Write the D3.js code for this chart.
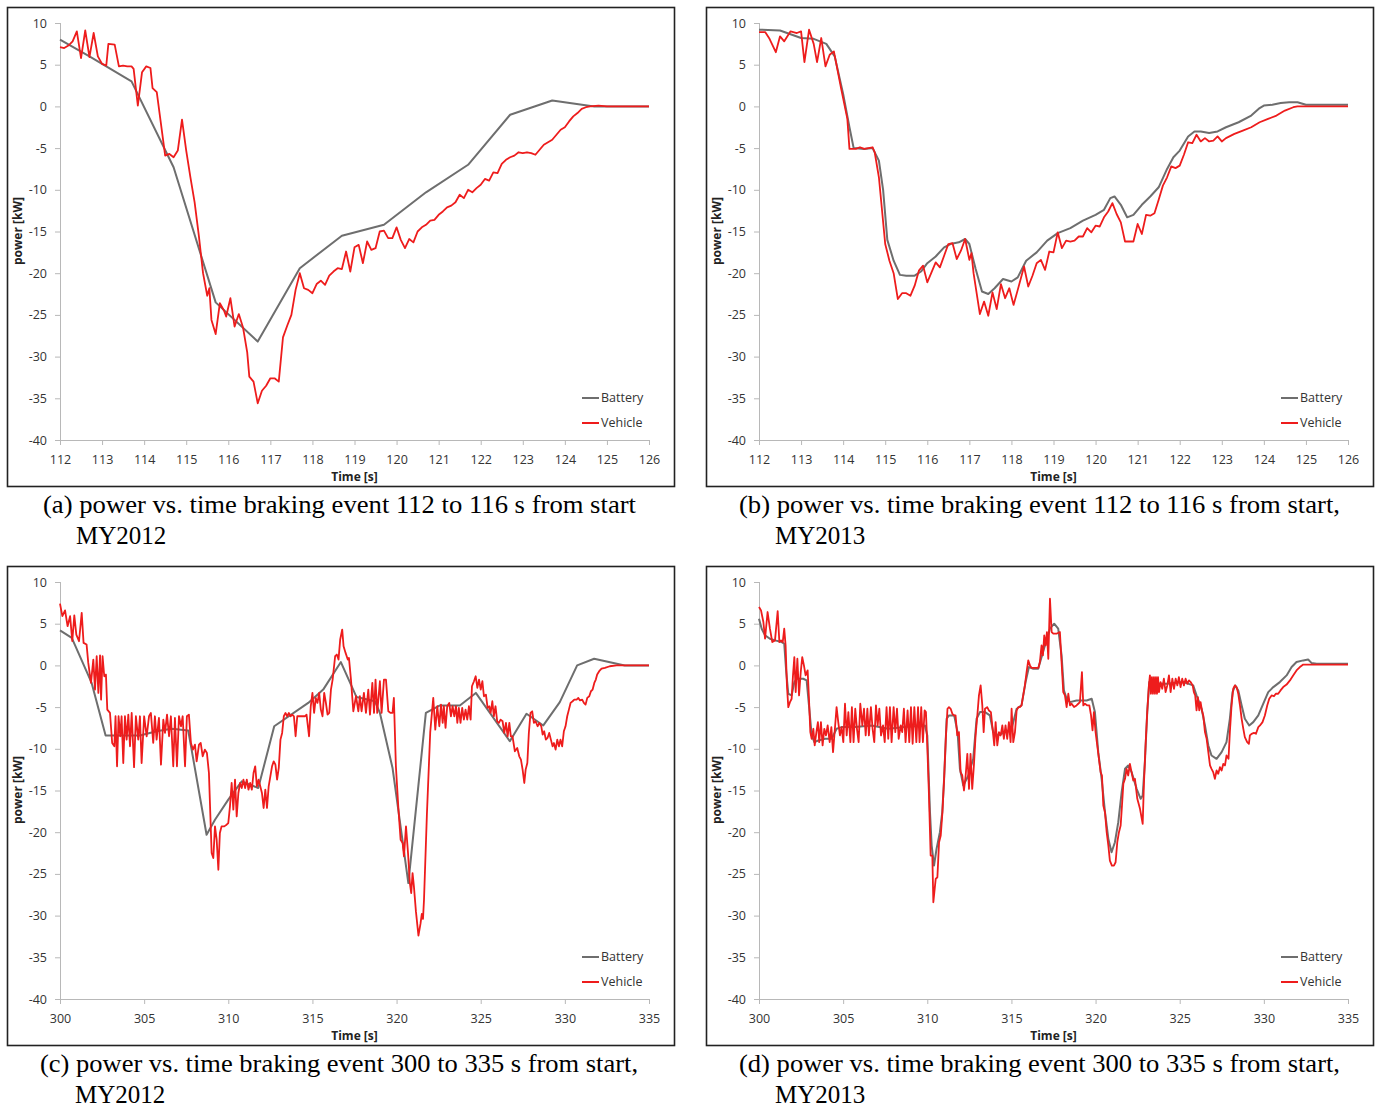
<!DOCTYPE html>
<html>
<head>
<meta charset="utf-8">
<script src="https://cdn.jsdelivr.net/npm/d3@7"></script>
<style>
  body { margin: 0; background: #fff; }
  svg { display: block; }
</style>
</head>
<body>
<svg id="fig" width="1376" height="1108"></svg>
<script>
// ---- data: [time s, power kW] ----
const yTicks = [10, 5, 0, -5, -10, -15, -20, -25, -30, -35, -40];
const xTicks112 = [112, 113, 114, 115, 116, 117, 118, 119, 120, 121, 122, 123, 124, 125, 126];
const xTicks300 = [300, 305, 310, 315, 320, 325, 330, 335];
const seriesNames = ["Battery", "Vehicle"];

const batteryA = [[112,8.0],[112.7,6.0],[113.7,3.0],[114.7,-7.3],[115.7,-23.5],[116.7,-28.2],[117.7,-19.4],[118.7,-15.5],[119.7,-14.2],[120.7,-10.3],[121.7,-7.0],[122.7,-1.0],[123.7,0.7],[124.7,0],[126,0]];

const vehicleA = [[112.0,7.1],[112.1,7.0],[112.2,7.3],[112.3,7.8],[112.4,9.0],[112.5,5.8],[112.6,9.1],[112.7,5.9],[112.8,8.8],[112.9,6.0],[113.0,5.1],[113.1,4.9],[113.15,7.5],[113.3,7.4],[113.4,4.8],[113.5,4.9],[113.6,4.8],[113.7,4.8],[113.75,4.5],[113.85,0.1],[113.95,4.1],[114.05,4.8],[114.15,4.6],[114.2,2.2],[114.3,1.7],[114.5,-5.9],[114.6,-5.7],[114.7,-6.1],[114.8,-5.3],[114.9,-1.6],[115.0,-5.3],[115.1,-8.5],[115.2,-11.5],[115.3,-15.5],[115.4,-20],[115.5,-22.7],[115.55,-21.8],[115.6,-25.6],[115.7,-27.3],[115.8,-23.6],[115.9,-24.5],[115.95,-25.2],[116.05,-23],[116.15,-26.4],[116.25,-24.9],[116.35,-26.5],[116.45,-29.5],[116.5,-32.4],[116.6,-33],[116.7,-35.6],[116.8,-34.1],[116.9,-33.5],[117.0,-32.6],[117.1,-32.6],[117.2,-33.0],[117.3,-27.7],[117.4,-26.3],[117.5,-25],[117.6,-22],[117.7,-20],[117.8,-21.8],[117.9,-22.0],[118.0,-22.4],[118.1,-21.3],[118.2,-20.9],[118.3,-21.4],[118.4,-20.3],[118.5,-19.8],[118.6,-19.4],[118.7,-19.5],[118.8,-17.4],[118.9,-19.8],[119.0,-16.9],[119.1,-16.6],[119.2,-18.8],[119.3,-16.2],[119.4,-17.2],[119.5,-17.0],[119.6,-15.0],[119.7,-14.9],[119.8,-15.8],[119.9,-15.8],[120.0,-14.5],[120.1,-16.0],[120.2,-17.0],[120.3,-15.9],[120.4,-16.3],[120.5,-15.0],[120.6,-14.5],[120.7,-14.2],[120.8,-13.7],[120.9,-13.6],[121.0,-13.0],[121.1,-12.6],[121.2,-12.1],[121.3,-11.9],[121.4,-11.5],[121.5,-10.6],[121.6,-11.0],[121.7,-10.0],[121.8,-10.3],[121.9,-9.8],[122.0,-9.4],[122.1,-8.7],[122.2,-8.9],[122.3,-7.9],[122.4,-8.0],[122.5,-6.9],[122.6,-6.4],[122.7,-6.1],[122.8,-5.9],[122.9,-5.5],[123.0,-5.6],[123.1,-5.5],[123.2,-5.6],[123.3,-5.8],[123.4,-5.2],[123.5,-4.6],[123.6,-4.3],[123.7,-4.0],[123.8,-3.4],[123.9,-2.8],[124.0,-2.5],[124.1,-1.8],[124.2,-1.2],[124.3,-0.8],[124.4,-0.3],[124.5,-0.1],[124.6,0],[124.8,0.1],[125,0],[126,0]];

const batteryB = [[112.0,9.2],[112.5,9.1],[113.0,8.2],[113.3,8.1],[113.6,7.5],[113.8,6.0],[114.0,1.5],[114.15,-2.5],[114.25,-5.0],[114.5,-5.1],[114.7,-5.0],[114.85,-6.5],[114.95,-10],[115.05,-16],[115.2,-18.5],[115.35,-20.2],[115.5,-20.3],[115.7,-20.3],[115.85,-19.8],[116.0,-18.8],[116.2,-18.0],[116.4,-16.9],[116.55,-16.5],[116.75,-16.3],[116.9,-15.9],[117.0,-16.5],[117.15,-19.5],[117.3,-22.2],[117.45,-22.5],[117.6,-21.8],[117.8,-20.7],[118.0,-21.0],[118.15,-20.5],[118.35,-18.5],[118.6,-17.5],[118.85,-16.1],[119.1,-15.2],[119.4,-14.6],[119.7,-13.7],[120.0,-13.0],[120.2,-12.4],[120.35,-11.0],[120.45,-10.8],[120.6,-11.8],[120.75,-13.3],[120.9,-13.0],[121.1,-11.8],[121.3,-10.8],[121.5,-9.7],[121.7,-7.5],[121.85,-6.1],[122.0,-5.3],[122.2,-3.6],[122.35,-3.0],[122.5,-3.0],[122.7,-3.2],[122.9,-3.0],[123.1,-2.5],[123.4,-1.9],[123.7,-1.1],[123.9,-0.2],[124.0,0.1],[124.2,0.2],[124.4,0.4],[124.6,0.5],[124.8,0.5],[125.0,0.2],[126,0.2]];

const vehicleB = [[112.0,8.9],[112.15,8.9],[112.25,8.1],[112.4,6.5],[112.5,8.4],[112.6,7.8],[112.75,9.0],[112.9,8.8],[113.0,9.0],[113.08,5.3],[113.19,9.2],[113.3,7.5],[113.38,5.3],[113.48,8.2],[113.58,4.8],[113.68,6.2],[113.78,6.6],[113.95,2.2],[114.1,-1.5],[114.15,-5.1],[114.3,-5.1],[114.4,-4.9],[114.5,-5.1],[114.6,-5.0],[114.7,-4.9],[114.75,-5.5],[114.85,-8.5],[115.0,-16.5],[115.1,-18.5],[115.2,-20.0],[115.3,-23.1],[115.4,-22.4],[115.5,-22.4],[115.6,-22.7],[115.7,-21.5],[115.8,-19.7],[115.9,-19.1],[116.0,-21.1],[116.1,-19.9],[116.2,-18.7],[116.3,-19.3],[116.4,-17.9],[116.5,-16.5],[116.6,-16.4],[116.7,-18.3],[116.8,-17.3],[116.9,-15.9],[117.0,-18.4],[117.05,-17.6],[117.1,-20],[117.25,-24.9],[117.35,-23.4],[117.45,-25.1],[117.55,-22.3],[117.65,-24.3],[117.75,-21.3],[117.85,-23.0],[117.95,-21.8],[118.05,-23.8],[118.15,-22.0],[118.3,-19.2],[118.4,-21.6],[118.5,-20.3],[118.6,-18.8],[118.7,-18.4],[118.8,-19.6],[118.9,-17.4],[119.0,-17.5],[119.1,-15.1],[119.2,-17.0],[119.3,-16.1],[119.4,-16.2],[119.5,-16.1],[119.6,-15.6],[119.7,-15.6],[119.8,-14.6],[119.9,-15.1],[120.0,-14.3],[120.1,-14.4],[120.2,-13.3],[120.3,-12.6],[120.4,-11.6],[120.5,-12.9],[120.6,-13.9],[120.7,-16.2],[120.8,-16.2],[120.9,-16.2],[121.0,-14.1],[121.1,-15.3],[121.2,-13.0],[121.3,-13.1],[121.4,-12.8],[121.5,-11.2],[121.6,-9.5],[121.7,-8.5],[121.8,-7.2],[121.9,-7.4],[122.0,-7.1],[122.1,-5.8],[122.2,-4.3],[122.3,-4.4],[122.4,-3.4],[122.5,-4.2],[122.6,-3.8],[122.7,-4.2],[122.8,-4.1],[122.9,-3.6],[123.0,-4.2],[123.1,-3.8],[123.3,-3.3],[123.5,-2.9],[123.7,-2.5],[123.9,-1.9],[124.1,-1.5],[124.3,-1.1],[124.5,-0.5],[124.7,-0.1],[124.8,0],[126,0]];

const batteryC = [[300,4.2],[300.7,3.3],[301.88,-2.1],[302.71,-8.4],[304.75,-8.4],[305.74,-7.9],[306.63,-7.6],[307.62,-7.8],[308.71,-20.3],[309.21,-18.5],[310.0,-16.1],[310.8,-13.9],[311.78,-14.7],[312.73,-7.3],[314.75,-4.5],[315.64,-2.9],[316.69,0.4],[317.62,-3.8],[318.72,-4.3],[319.01,-5.7],[319.76,-12.3],[320.7,-26.1],[321.74,-5.7],[322.58,-4.8],[323.76,-4.8],[324.71,-3.3],[326.73,-9.1],[327.72,-5.8],[328.72,-7.2],[329.7,-4.4],[330.73,0],[331.74,0.8],[333.56,0],[335,0]];

const vehicleC = [[300.0,7.4],[300.14,5.9],[300.3,6.6],[300.45,4.7],[300.6,5.9],[300.73,2.9],[300.85,6.0],[300.97,3.7],[301.13,2.9],[301.29,6.3],[301.4,2.7],[301.58,2.5],[301.68,0.3],[301.84,-2.1],[301.98,0.7],[302.08,-2.9],[302.18,1.1],[302.28,-3.3],[302.38,1.2],[302.44,-4.1],[302.53,1.1],[302.63,-1.3],[302.73,-1.1],[302.81,-5.3],[302.97,-5.7],[303.1,-9.3],[303.23,-9.7],[303.3,-6.1],[303.39,-12.1],[303.48,-6.1],[303.58,-8.5],[303.66,-6.1],[303.76,-11.7],[303.86,-6.1],[303.96,-8.9],[304.06,-5.9],[304.16,-9.7],[304.26,-5.7],[304.4,-12.2],[304.51,-6.1],[304.65,-8.9],[304.75,-6.1],[304.85,-11.7],[305.0,-6.1],[305.15,-8.5],[305.29,-6.1],[305.4,-5.7],[305.54,-9.3],[305.64,-6.1],[305.74,-8.9],[305.88,-6.3],[306.0,-11.9],[306.14,-6.5],[306.24,-8.1],[306.36,-5.9],[306.48,-8.5],[306.59,-6.1],[306.73,-12.1],[306.83,-6.3],[306.95,-12.1],[307.07,-6.1],[307.19,-7.3],[307.29,-6.1],[307.43,-12.1],[307.54,-6.1],[307.66,-5.9],[307.78,-9.3],[307.9,-10.1],[308.02,-9.5],[308.12,-11.5],[308.26,-9.5],[308.36,-9.3],[308.48,-10.9],[308.61,-10.1],[308.73,-10.5],[308.85,-12.9],[308.93,-17.7],[309.01,-22.5],[309.11,-23.1],[309.21,-19.3],[309.31,-20.9],[309.41,-24.5],[309.5,-20.1],[309.6,-19.3],[309.76,-19.3],[309.9,-19.1],[310.0,-18.9],[310.1,-16.9],[310.2,-14.1],[310.3,-17.3],[310.4,-13.7],[310.5,-18.1],[310.6,-15.3],[310.7,-14.1],[310.8,-14.7],[310.9,-13.7],[311.0,-14.7],[311.1,-13.7],[311.2,-14.9],[311.3,-14.1],[311.4,-14.9],[311.5,-12.9],[311.6,-12.1],[311.7,-14.5],[311.8,-13.7],[311.9,-14.5],[312.0,-15.3],[312.1,-17.1],[312.2,-14.9],[312.3,-17.1],[312.4,-14.5],[312.5,-13.3],[312.6,-12.1],[312.7,-11.5],[312.8,-11.9],[312.9,-13.7],[313.0,-12.3],[313.1,-8.9],[313.2,-8.1],[313.3,-6.1],[313.4,-5.7],[313.5,-6.1],[313.6,-5.7],[313.7,-6.1],[313.8,-5.9],[313.9,-6.1],[314.0,-8.5],[314.1,-6.1],[314.4,-6.1],[314.55,-6.1],[314.65,-5.9],[314.8,-8.5],[314.9,-4.9],[315.0,-3.3],[315.1,-5.7],[315.2,-3.9],[315.3,-4.5],[315.4,-3.3],[315.5,-5.3],[315.6,-6.1],[315.7,-3.3],[315.8,-4.5],[315.9,-5.9],[316.0,-5.7],[316.1,-2.9],[316.2,-1.7],[316.35,1.1],[316.45,1.3],[316.55,0.7],[316.65,3.1],[316.77,4.3],[316.85,2.3],[316.97,1.5],[317.1,0.7],[317.17,0.9],[317.29,-1.7],[317.43,-5.5],[317.59,-3.7],[317.73,-5.5],[317.82,-3.7],[317.92,-5.5],[318.06,-3.3],[318.18,-5.7],[318.32,-2.9],[318.42,-5.9],[318.56,-2.1],[318.66,-5.7],[318.75,-1.7],[318.85,-5.7],[319.01,-1.9],[319.11,-5.7],[319.25,-1.7],[319.37,-1.7],[319.51,-5.5],[319.65,-5.7],[319.76,-5.7],[319.84,-3.9],[319.96,-12.1],[320.1,-16.9],[320.24,-20.9],[320.36,-21.3],[320.44,-22.9],[320.56,-19.3],[320.68,-22.5],[320.79,-26.1],[320.87,-27.3],[320.95,-24.9],[321.03,-26.5],[321.15,-29.5],[321.3,-32.4],[321.42,-31.0],[321.5,-29.8],[321.57,-30.4],[321.63,-28.1],[321.8,-18.0],[322.0,-8.0],[322.18,-3.9],[322.3,-7.7],[322.42,-4.9],[322.54,-7.3],[322.64,-4.7],[322.74,-6.9],[322.81,-4.9],[322.91,-7.5],[323.01,-4.9],[323.13,-4.5],[323.23,-6.1],[323.33,-4.9],[323.43,-6.1],[323.53,-4.9],[323.61,-6.9],[323.7,-5.1],[323.8,-6.9],[323.9,-5.1],[324.0,-6.5],[324.1,-5.3],[324.2,-6.5],[324.3,-4.9],[324.4,-6.5],[324.48,-2.5],[324.6,-1.9],[324.7,-1.3],[324.8,-2.7],[324.9,-1.7],[325.0,-2.9],[325.1,-1.9],[325.19,-3.7],[325.31,-3.5],[325.41,-5.1],[325.51,-4.9],[325.59,-5.7],[325.69,-4.3],[325.78,-6.1],[325.88,-4.9],[325.98,-6.7],[326.08,-6.9],[326.18,-6.5],[326.3,-6.7],[326.4,-8.1],[326.5,-6.9],[326.6,-8.5],[326.7,-6.9],[326.79,-8.5],[326.89,-8.5],[327.03,-10.3],[327.17,-9.9],[327.29,-10.9],[327.39,-11.3],[327.49,-12.5],[327.59,-14.1],[327.67,-12.5],[327.77,-11.7],[327.86,-8.1],[327.96,-5.7],[328.06,-5.5],[328.16,-6.9],[328.26,-6.7],[328.38,-7.3],[328.48,-6.9],[328.6,-7.3],[328.68,-8.3],[328.77,-7.9],[328.87,-8.9],[328.97,-8.7],[329.07,-8.1],[329.17,-8.9],[329.27,-9.7],[329.35,-9.3],[329.45,-10.1],[329.55,-8.9],[329.65,-9.7],[329.74,-8.9],[329.84,-9.7],[329.94,-7.9],[330.04,-7.3],[330.14,-6.1],[330.24,-5.3],[330.34,-4.5],[330.46,-4.3],[330.56,-4.1],[330.7,-4.1],[330.8,-3.9],[330.9,-4.2],[331.03,-4.1],[331.13,-4.5],[331.23,-4.7],[331.33,-3.9],[331.45,-3.7],[331.55,-3.1],[331.65,-2.9],[331.75,-2.1],[331.84,-1.7],[331.92,-1.1],[332.04,-0.7],[332.18,-0.4],[332.38,-0.3],[332.67,-0.1],[333.07,0],[335,0]];

const batteryD = [[300,5.6],[300.16,4.4],[300.36,3.6],[300.65,3.2],[300.95,3.0],[301.35,2.8],[301.5,2.6],[301.62,-0.8],[301.74,-3.4],[301.94,-3.6],[302.1,-2.0],[302.24,-1.6],[302.63,-1.6],[302.83,-1.8],[302.97,-4.8],[303.13,-8.4],[303.29,-9.2],[303.52,-9.0],[303.92,-8.8],[304.32,-8.8],[304.61,-7.6],[304.91,-7.4],[305.7,-7.4],[306.69,-7.2],[307.68,-7.6],[308.67,-7.4],[309.86,-7.2],[310.0,-8.4],[310.16,-17.6],[310.26,-21.6],[310.4,-24.0],[310.55,-22.0],[310.75,-20.0],[310.89,-17.6],[311.0,-13.6],[311.15,-6.4],[311.29,-6.0],[311.6,-6.0],[311.8,-8.0],[311.94,-12.4],[312.14,-14.4],[312.44,-13.2],[312.73,-11.2],[312.93,-6.4],[313.13,-5.6],[313.43,-5.6],[313.72,-6.0],[313.92,-8.0],[314.22,-8.4],[314.61,-8.0],[315.01,-7.6],[315.31,-5.2],[315.6,-4.8],[315.84,-2.0],[316.04,-0.2],[316.3,-0.4],[316.59,-0.4],[316.99,2.4],[317.29,4.4],[317.54,5.0],[317.78,4.4],[317.98,1.2],[318.12,-3.0],[318.28,-4.0],[318.48,-4.4],[318.87,-4.2],[319.47,-4.2],[319.77,-4.0],[319.96,-5.6],[320.16,-10.4],[320.36,-13.6],[320.56,-17.6],[320.76,-20.8],[320.95,-22.4],[321.15,-21.2],[321.35,-18.8],[321.55,-15.2],[321.75,-12.4],[321.94,-12.0],[322.14,-12.8],[322.44,-14.8],[322.68,-16.0],[322.8,-15.6],[322.93,-11.6],[323.07,-5.6],[323.19,-2.0],[323.43,-2.2],[324.22,-2.2],[325.21,-2.0],[325.8,-2.4],[326.0,-3.6],[326.3,-5.2],[326.5,-7.2],[326.7,-9.6],[326.89,-10.8],[327.19,-11.2],[327.49,-10.4],[327.78,-9.2],[327.98,-6.4],[328.14,-3.2],[328.3,-2.4],[328.48,-3.0],[328.68,-4.8],[328.87,-6.4],[329.13,-7.2],[329.37,-6.8],[329.67,-6.0],[329.96,-4.6],[330.26,-3.2],[330.56,-2.6],[330.95,-2.0],[331.35,-1.2],[331.65,-0.2],[331.94,0.4],[332.34,0.6],[332.63,0.7],[332.83,0.3],[333.13,0.2],[335,0.2]];

const vehicleD = [[300,7.0],[300.12,6.6],[300.26,5.2],[300.36,3.2],[300.51,6.4],[300.65,4.4],[300.79,2.8],[300.95,3.0],[301.11,6.5],[301.21,2.8],[301.31,3.0],[301.41,2.8],[301.5,4.4],[301.58,2.4],[301.66,-2.4],[301.74,-5.0],[301.84,-4.4],[301.94,-4.0],[302.02,-1.2],[302.1,1.0],[302.18,-3.2],[302.28,0.8],[302.38,-3.6],[302.48,-0.8],[302.57,1.0],[302.67,0],[302.77,-1.2],[302.89,-0.6],[302.97,-4.0],[303.05,-8.0],[303.13,-8.8],[303.23,-7.6],[303.31,-9.6],[303.41,-8.0],[303.5,-6.8],[303.58,-9.2],[303.68,-6.8],[303.78,-9.6],[303.88,-7.6],[303.98,-8.4],[304.08,-7.2],[304.2,-9.2],[304.3,-7.4],[304.4,-10.4],[304.51,-7.6],[304.61,-5.0],[304.71,-6.8],[304.81,-8.4],[304.91,-7.4],[305.01,-9.2],[305.11,-4.6],[305.21,-8.4],[305.31,-5.6],[305.43,-9.2],[305.52,-5.0],[305.62,-9.2],[305.72,-5.2],[305.82,-7.6],[305.92,-9.2],[306.02,-4.6],[306.14,-7.2],[306.24,-5.2],[306.34,-8.4],[306.44,-5.2],[306.53,-8.4],[306.65,-5.0],[306.75,-7.6],[306.85,-9.2],[306.95,-4.8],[307.05,-7.2],[307.15,-5.2],[307.25,-8.4],[307.37,-7.2],[307.47,-9.2],[307.58,-5.0],[307.68,-8.8],[307.78,-5.0],[307.88,-9.2],[308.0,-5.0],[308.1,-8.0],[308.2,-5.2],[308.3,-8.8],[308.42,-7.2],[308.51,-8.0],[308.61,-5.2],[308.71,-9.2],[308.83,-5.4],[308.93,-9.2],[309.03,-5.0],[309.13,-9.4],[309.23,-5.0],[309.35,-9.2],[309.45,-5.0],[309.54,-9.2],[309.64,-5.0],[309.74,-9.2],[309.84,-5.4],[309.92,-5.6],[310.0,-9.6],[310.1,-15.6],[310.2,-22.8],[310.3,-22.8],[310.36,-28.4],[310.5,-25.6],[310.6,-25.4],[310.7,-21.2],[310.8,-20.4],[310.9,-17.6],[311.0,-13.6],[311.1,-8.8],[311.2,-5.2],[311.29,-5.0],[311.39,-5.2],[311.49,-5.8],[311.58,-6.0],[311.68,-6.0],[311.78,-8.4],[311.88,-8.0],[311.98,-12.8],[312.08,-13.2],[312.18,-15.0],[312.28,-13.2],[312.38,-10.6],[312.48,-14.8],[312.57,-10.6],[312.67,-14.8],[312.77,-12.0],[312.87,-8.4],[312.99,-5.6],[313.07,-3.6],[313.17,-2.4],[313.27,-4.8],[313.35,-8.0],[313.43,-5.2],[313.56,-5.0],[313.66,-5.4],[313.78,-5.6],[313.88,-7.6],[313.98,-9.6],[314.06,-6.8],[314.16,-9.6],[314.26,-8.0],[314.36,-8.4],[314.46,-7.2],[314.55,-8.8],[314.65,-7.2],[314.75,-8.8],[314.85,-6.8],[314.95,-9.2],[315.01,-5.2],[315.11,-9.2],[315.21,-8.0],[315.31,-5.4],[315.41,-5.0],[315.5,-5.0],[315.6,-4.8],[315.7,-3.6],[315.8,-2.4],[315.9,-0.8],[316.0,0.6],[316.1,0],[316.2,-0.3],[316.4,-0.3],[316.6,-0.3],[316.69,0.4],[316.79,2.4],[316.87,1.2],[316.95,3.6],[317.03,2.4],[317.11,4.0],[317.19,0.8],[317.29,8.0],[317.39,4.0],[317.49,3.8],[317.68,3.8],[317.88,4.0],[317.98,0.4],[318.08,-3.2],[318.18,-3.6],[318.28,-5.0],[318.38,-3.4],[318.48,-4.8],[318.58,-4.6],[318.72,-5.0],[318.87,-4.8],[318.97,-4.6],[319.07,-4.4],[319.19,-0.8],[319.27,-4.8],[319.37,-4.6],[319.51,-4.8],[319.63,-4.8],[319.73,-6.0],[319.82,-7.8],[319.9,-5.6],[320.0,-8.0],[320.1,-9.6],[320.2,-11.2],[320.3,-12.8],[320.38,-13.2],[320.46,-16.8],[320.56,-17.6],[320.66,-20.0],[320.76,-21.6],[320.85,-23.4],[320.97,-24.0],[321.09,-24.0],[321.19,-23.6],[321.29,-21.2],[321.39,-20.0],[321.49,-19.2],[321.57,-16.8],[321.65,-14.2],[321.75,-13.6],[321.84,-12.4],[321.94,-13.2],[322.04,-11.8],[322.14,-12.8],[322.24,-13.8],[322.34,-13.6],[322.48,-16.0],[322.64,-17.2],[322.8,-19.0],[322.87,-14.4],[322.97,-9.6],[323.07,-5.6],[323.17,-2.4],[323.23,-1.2],[323.29,-3.4],[323.35,-1.4],[323.41,-3.4],[323.47,-1.4],[323.53,-3.4],[323.59,-1.4],[323.65,-3.4],[323.71,-1.4],[323.77,-3.2],[323.86,-2.0],[323.96,-2.8],[324.06,-1.6],[324.16,-3.2],[324.26,-2.4],[324.36,-1.2],[324.46,-3.2],[324.56,-1.6],[324.66,-2.8],[324.76,-1.6],[324.86,-2.4],[324.95,-1.4],[325.05,-2.6],[325.15,-1.6],[325.25,-2.4],[325.35,-1.6],[325.45,-2.2],[325.55,-1.8],[325.65,-2.0],[325.77,-2.4],[325.84,-3.2],[325.92,-3.6],[326.0,-5.4],[326.08,-3.8],[326.16,-5.4],[326.24,-4.4],[326.32,-5.4],[326.4,-6.0],[326.5,-8.0],[326.6,-8.8],[326.7,-10.4],[326.8,-12.0],[326.89,-12.4],[326.99,-12.8],[327.09,-13.6],[327.19,-12.6],[327.29,-13.0],[327.39,-12.2],[327.49,-12.6],[327.59,-11.8],[327.69,-12.0],[327.78,-10.8],[327.9,-11.2],[327.98,-8.0],[328.08,-4.8],[328.18,-2.8],[328.28,-2.4],[328.38,-2.6],[328.48,-3.4],[328.58,-4.8],[328.68,-6.4],[328.78,-7.6],[328.87,-8.6],[329.01,-9.2],[329.11,-9.4],[329.17,-8.4],[329.27,-8.2],[329.41,-8.1],[329.53,-8.2],[329.67,-7.4],[329.77,-7.2],[329.92,-6.8],[330.06,-6.0],[330.2,-4.8],[330.32,-4.0],[330.46,-3.6],[330.6,-3.7],[330.71,-3.4],[330.85,-3.4],[330.99,-3.0],[331.15,-2.6],[331.35,-2.3],[331.55,-1.8],[331.74,-1.2],[331.94,-0.6],[332.14,-0.2],[332.34,0.1],[332.63,0.1],[335,0.1]];

const captions = [
  ["(a) power vs. time braking event 112 to 116 s from start", "MY2012"],
  ["(b) power vs. time braking event 112 to 116 s from start,", "MY2013"],
  ["(c) power vs. time braking event 300 to 335 s from start,", "MY2012"],
  ["(d) power vs. time braking event 300 to 335 s from start,", "MY2013"]
];

const panels = [
  {ox: 0,   oy: 0,   domain: [112, 126], ticks: xTicks112, battery: batteryA, vehicle: vehicleA, cap: captions[0], capX: [43, 76],   capW: 593},
  {ox: 699, oy: 0,   domain: [112, 126], ticks: xTicks112, battery: batteryB, vehicle: vehicleB, cap: captions[1], capX: [739, 775], capW: 601},
  {ox: 0,   oy: 559, domain: [300, 335], ticks: xTicks300, battery: batteryC, vehicle: vehicleC, cap: captions[2], capX: [40, 75],   capW: 598},
  {ox: 699, oy: 559, domain: [300, 335], ticks: xTicks300, battery: batteryD, vehicle: vehicleD, cap: captions[3], capX: [739, 775], capW: 601}
];

const colors = {Battery: "#6e6e6e", Vehicle: "#ee1c1c"};
const svg = d3.select("#fig");
const axisFont = "'Open Sans', 'Liberation Sans', sans-serif";
const axisColor = "#b8b8b8";

panels.forEach(p => {
  const g = svg.append("g").attr("transform", `translate(${p.ox},${p.oy})`);
  g.append("rect").attr("x", 7.5).attr("y", 7.5).attr("width", 667).attr("height", 479)
    .attr("fill", "#fff").attr("stroke", "#222").attr("stroke-width", 1.6);

  const x = d3.scaleLinear().domain(p.domain).range([60, 649]);
  const y = d3.scaleLinear().domain([-40, 10]).range([440, 23]);

  // Excel-style labels use a plain hyphen for negatives
  const yAxis = g.append("g").attr("transform", "translate(60,0)")
    .call(d3.axisLeft(y).tickValues(yTicks).tickSize(5).tickPadding(8).tickFormat(d => String(d)));
  const xAxis = g.append("g").attr("transform", "translate(0,440)")
    .call(d3.axisBottom(x).tickValues(p.ticks).tickSize(5).tickPadding(10).tickFormat(d => String(d)));
  [yAxis, xAxis].forEach(a => {
    a.select(".domain").attr("stroke", axisColor).attr("stroke-width", 1);
    a.selectAll(".tick line").attr("stroke", axisColor);
    a.selectAll("text").attr("fill", "#333").style("font-family", axisFont).style("font-size", "12.5px");
  });
  yAxis.select(".domain").attr("d", "M0.5,23V440.5");
  xAxis.select(".domain").attr("d", "M60,0.5H649.5");

  g.append("text").attr("x", 354.5).attr("y", 481).attr("text-anchor", "middle")
    .style("font-family", axisFont).style("font-size", "12px").style("font-weight", "bold").attr("fill", "#222")
    .text("Time [s]");
  g.append("text").attr("transform", "translate(22,231) rotate(-90)").attr("text-anchor", "middle")
    .style("font-family", axisFont).style("font-size", "12px").style("font-weight", "bold").attr("fill", "#222")
    .text("power [kW]");

  const line = d3.line().x(d => x(d[0])).y(d => y(d[1]));
  g.append("path").datum(p.battery).attr("d", line).attr("fill", "none")
    .attr("stroke", colors.Battery).attr("stroke-width", 2).attr("stroke-linejoin", "round");
  g.append("path").datum(p.vehicle).attr("d", line).attr("fill", "none")
    .attr("stroke", colors.Vehicle).attr("stroke-width", 1.8).attr("stroke-linejoin", "round");

  seriesNames.forEach((name, i) => {
    const ly = 398 + i * 25;
    g.append("line").attr("x1", 582).attr("x2", 599).attr("y1", ly).attr("y2", ly)
      .attr("stroke", colors[name]).attr("stroke-width", 2);
    g.append("text").attr("x", 601).attr("y", ly).attr("dy", "0.35em")
      .style("font-family", axisFont).style("font-size", "12.5px").attr("fill", "#333").text(name);
  });

  p.cap.forEach((t, i) => {
    const tx = g.append("text").attr("x", p.capX[i] - p.ox).attr("y", 513 + i * 31)
      .style("font-family", "'Liberation Serif', 'Times New Roman', serif").style("font-size", "25px")
      .attr("fill", "#000").text(t);
    if (i === 0) tx.attr("textLength", p.capW).attr("lengthAdjust", "spacingAndGlyphs");
  });
});
</script>
</body>
</html>
